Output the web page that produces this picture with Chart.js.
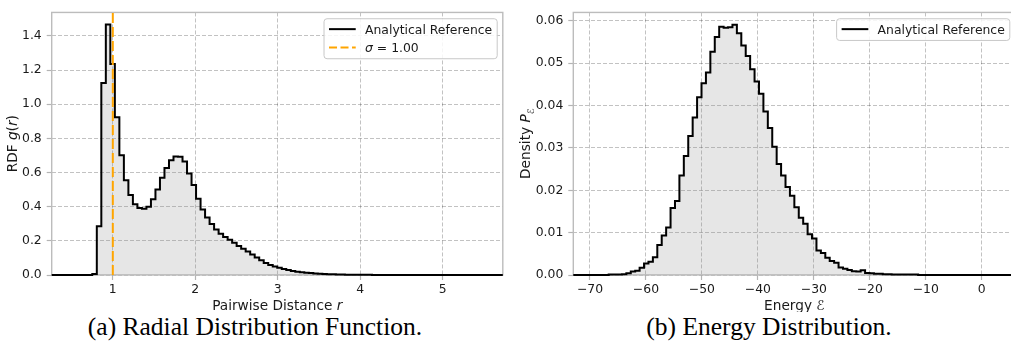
<!DOCTYPE html>
<html lang="en">
<head>
    <meta charset="UTF-8">
    <title>Radial and Energy Distributions</title>
    <script src="https://cdn.jsdelivr.net/npm/chart.js"></script>
    <style>
        html, body {
            margin: 0;
            padding: 0;
            width: 1011px;
            height: 354px;
            overflow: hidden;
            background: #fff;
        }
        canvas {
            position: absolute;
            top: 0;
        }
        #rdfChart { left: 0; }
        #energyChart { left: 510px; }
        .caption {
            position: absolute;
            top: 312px;
            font-family: 'Liberation Serif', serif;
            font-size: 25.5px;
            line-height: 30px;
            color: #000;
            white-space: nowrap;
            transform: translateX(-50%);
        }
    </style>
</head>
<body>

    <canvas id="rdfChart" width="510" height="312"></canvas>
    <canvas id="energyChart" width="520" height="312"></canvas>

    <div class="caption" style="left: 255px;">(a) Radial Distribution Function.</div>
    <div class="caption" style="left: 769px;">(b) Energy Distribution.</div>

    <script>
        // --- data: RDF histogram (100 bins) ---
        const rdfFirstEdge = 0.259;
        const rdfBinWidth = 0.0547;
        const rdfValues = [
            0, 0, 0, 0, 0, 0, 0, 0, 0, 0.006,
            0.285, 1.124, 1.467, 1.235, 0.924, 0.702, 0.555, 0.469, 0.415, 0.392,
            0.388, 0.400, 0.444, 0.500, 0.570, 0.627, 0.672, 0.694, 0.693, 0.664,
            0.594, 0.527, 0.447, 0.384, 0.336, 0.298, 0.267, 0.241, 0.222, 0.206,
            0.189, 0.170, 0.153, 0.138, 0.120, 0.103, 0.086, 0.071, 0.059, 0.050,
            0.042, 0.035, 0.029, 0.023, 0.019, 0.016, 0.013, 0.011, 0.009, 0.007,
            0.006, 0.005, 0.004, 0.003, 0.003, 0.002, 0.002, 0.0015, 0.001, 0.001,
            0.0008, 0.0006, 0.0005, 0.0004, 0.0003, 0.0003, 0.0002, 0.0002, 0.0002, 0.0001,
            0, 0, 0, 0, 0, 0, 0, 0, 0, 0,
            0, 0, 0, 0, 0, 0, 0, 0, 0, 0
        ];
        const sigmaValue = 1.0;
        const rdfXTicks = [1, 2, 3, 4, 5];
        const rdfYTicks = [0, 0.2, 0.4, 0.6, 0.8, 1.0, 1.2, 1.4];
        const rdfYMax = 1.5376;

        // --- data: energy histogram (100 bins) ---
        const energyFirstEdge = -72.98;
        const energyBinWidth = 0.79;
        const energyValues = [
            0, 0, 0, 0, 0, 0, 0, 0, 0.0001, 0.0001,
            0.0001, 0.0002, 0.0004, 0.0008, 0.0010, 0.0017, 0.0027, 0.0031, 0.0042, 0.0071,
            0.0093, 0.0112, 0.0158, 0.0175, 0.0235, 0.0281, 0.0328, 0.0372, 0.0420, 0.0453,
            0.0478, 0.0527, 0.0562, 0.0586, 0.0584, 0.0585, 0.0591, 0.0571, 0.0542, 0.0517,
            0.0486, 0.0457, 0.0428, 0.0386, 0.0347, 0.0303, 0.0262, 0.0235, 0.0208, 0.0187,
            0.0160, 0.0135, 0.0121, 0.0096, 0.0086, 0.0058, 0.0052, 0.0041, 0.0033, 0.0029,
            0.0018, 0.0015, 0.0012, 0.0009, 0.0008, 0.0011, 0.0005, 0.0004, 0.0003, 0.0003,
            0.0002, 0.0002, 0.0001, 0.0001, 0.0001, 0.0001, 0.0001, 0.0001, 0, 0,
            0, 0, 0, 0, 0, 0, 0, 0, 0, 0,
            0, 0, 0, 0, 0, 0, 0, 0, 0, 0
        ];
        const energyXTicks = [-70, -60, -50, -40, -30, -20, -10, 0];
        const energyYTicks = [0, 0.01, 0.02, 0.03, 0.04, 0.05, 0.06];
        const energyYMax = 0.0620;

        const FONT = "'DejaVu Sans'";
        const FONT_SIZE = 12.4;     // ticks and legend
        const TITLE_SIZE = 13.7;    // axis titles
        const TEXT_COLOR = '#1a1a1a';

        // bin heights -> step points at the left edges, plus the closing right edge
        function stepPoints(firstEdge, width, values) {
            const pts = values.map((v, i) => ({ x: firstEdge + i * width, y: v }));
            pts.push({ x: firstEdge + values.length * width, y: values[values.length - 1] });
            return pts;
        }

        function partFont(p, size) {
            const s = p.sub ? size * 0.7 : size;
            return (p.i ? 'italic ' : '') + s + 'px ' + FONT;
        }

        function richWidth(ctx, parts, size) {
            let w = 0;
            parts.forEach(p => { ctx.font = partFont(p, size); w += ctx.measureText(p.t).width; });
            return w;
        }

        // draw mixed upright / italic / subscript text
        function drawRich(ctx, parts, x, y, opts = {}) {
            const size = opts.size || FONT_SIZE;
            ctx.save();
            ctx.translate(x, y);
            if (opts.rotate) ctx.rotate(-Math.PI / 2);
            ctx.fillStyle = TEXT_COLOR;
            ctx.textBaseline = 'alphabetic';
            ctx.textAlign = 'left';
            let cx = opts.center ? -richWidth(ctx, parts, size) / 2 : 0;
            parts.forEach(p => {
                ctx.font = partFont(p, size);
                ctx.fillText(p.t, cx, p.sub ? 3.5 : 0);
                cx += ctx.measureText(p.t).width;
            });
            ctx.restore();
        }

        // matplotlib look: frame, axis titles and boxed legend
        const mplDecor = {
            id: 'mplDecor',
            beforeDatasetsDraw(chart, args, opts) {
                const { ctx, chartArea: a } = chart;
                ctx.save();
                ctx.strokeStyle = '#bcbcbc';
                ctx.lineWidth = 1.4;
                ctx.strokeRect(a.left, a.top, a.right - a.left, a.bottom - a.top);
                ctx.restore();
            },
            afterDraw(chart, args, opts) {
                const { ctx, chartArea: a } = chart;
                const midX = (a.left + a.right) / 2;
                const midY = (a.top + a.bottom) / 2;
                drawRich(ctx, opts.xTitle, midX, opts.xTitleY, { center: true, size: TITLE_SIZE });
                drawRich(ctx, opts.yTitle, opts.yTitleX, midY, { center: true, rotate: true, size: TITLE_SIZE });

                // legend box
                const entries = opts.legend;
                let textW = 0;
                entries.forEach(e => { textW = Math.max(textW, richWidth(ctx, e.parts, FONT_SIZE)); });
                const w = 5 + 26.7 + 9.3 + textW + 5;
                const h = 10.4 + (entries.length - 1) * 18.3 + 11.3;
                const x0 = a.right - 5.6 - w;
                const y0 = a.top + 6.3;
                ctx.save();
                ctx.beginPath();
                ctx.roundRect(x0, y0, w, h, 3);
                ctx.fillStyle = 'rgba(255,255,255,0.85)';
                ctx.fill();
                ctx.strokeStyle = '#c8c8c8';
                ctx.lineWidth = 1;
                ctx.stroke();
                entries.forEach((e, i) => {
                    const cy = y0 + 10.4 + i * 18.3;
                    ctx.beginPath();
                    ctx.setLineDash(e.dash || []);
                    ctx.strokeStyle = e.color;
                    ctx.lineWidth = 2;
                    ctx.moveTo(x0 + 5, cy);
                    ctx.lineTo(x0 + 31.7, cy);
                    ctx.stroke();
                    ctx.setLineDash([]);
                    drawRich(ctx, e.parts, x0 + 41, cy + 4.6);
                });
                ctx.restore();
            }
        };

        function axisX(min, max, ticks, fmt) {
            return {
                type: 'linear',
                min: min,
                max: max,
                afterBuildTicks: s => { s.ticks = ticks.map(v => ({ value: v })); },
                afterFit: s => { s.height = 37; },
                ticks: {
                    autoSkip: false,
                    maxRotation: 0,
                    padding: 2,
                    color: TEXT_COLOR,
                    font: { family: FONT, size: FONT_SIZE },
                    callback: fmt
                },
                grid: { color: 'rgba(0,0,0,0.24)', lineWidth: 1, tickLength: 5, tickColor: '#b4b4b4', tickWidth: 1.2 },
                border: { display: false, dash: [4, 2] }
            };
        }

        function axisY(max, ticks, fmt, width) {
            return {
                type: 'linear',
                min: 0,
                max: max,
                afterBuildTicks: s => { s.ticks = ticks.map(v => ({ value: v })); },
                afterFit: s => { s.width = width; },
                ticks: {
                    autoSkip: false,
                    padding: 5,
                    color: TEXT_COLOR,
                    font: { family: FONT, size: FONT_SIZE },
                    callback: fmt
                },
                grid: { color: 'rgba(0,0,0,0.24)', lineWidth: 1, tickLength: 5, tickColor: '#b4b4b4', tickWidth: 1.2 },
                border: { display: false, dash: [4, 2] }
            };
        }

        const minusSign = v => String(v).replace('-', '\u2212');

        const histStyle = {
            borderColor: '#000',
            borderWidth: 2,
            backgroundColor: 'rgba(128,128,128,0.2)',
            fill: 'origin',
            stepped: true,
            pointRadius: 0,
            borderJoinStyle: 'miter',
            clip: false,
            order: 2
        };

        new Chart(document.getElementById('rdfChart'), {
            type: 'line',
            data: {
                datasets: [
                    Object.assign({ label: 'Analytical Reference', data: stepPoints(rdfFirstEdge, rdfBinWidth, rdfValues) }, histStyle),
                    {
                        label: '\u03c3 = 1.00',
                        data: [{ x: sigmaValue, y: 0 }, { x: sigmaValue, y: rdfYMax }],
                        borderColor: '#ffa500',
                        borderWidth: 2,
                        borderDash: [10, 4],
                        pointRadius: 0,
                        fill: false,
                        order: 1
                    }
                ]
            },
            options: {
                responsive: false,
                animation: false,
                devicePixelRatio: 1,
                layout: { padding: { top: 7, right: 7.2, left: 0, bottom: 0 } },
                scales: {
                    x: axisX(rdfFirstEdge, rdfFirstEdge + rdfValues.length * rdfBinWidth, rdfXTicks, v => String(v)),
                    y: axisY(rdfYMax, rdfYTicks, v => v.toFixed(1), 51.7)
                },
                plugins: {
                    legend: { display: false },
                    tooltip: { enabled: false },
                    mplDecor: {
                        xTitle: [{ t: 'Pairwise Distance ' }, { t: 'r', i: true }],
                        xTitleY: 310,
                        yTitle: [{ t: 'RDF ' }, { t: 'g', i: true }, { t: '(' }, { t: 'r', i: true }, { t: ')' }],
                        yTitleX: 17.3,
                        legend: [
                            { parts: [{ t: 'Analytical Reference' }], color: '#000' },
                            { parts: [{ t: '\u03c3', i: true }, { t: ' = 1.00' }], color: '#ffa500', dash: [8, 3.5] }
                        ]
                    }
                }
            },
            plugins: [mplDecor]
        });

        new Chart(document.getElementById('energyChart'), {
            type: 'line',
            data: {
                datasets: [
                    Object.assign({ label: 'Analytical Reference', data: stepPoints(energyFirstEdge, energyBinWidth, energyValues) }, histStyle)
                ]
            },
            options: {
                responsive: false,
                animation: false,
                devicePixelRatio: 1,
                layout: { padding: { top: 7, right: 14.6, left: 0, bottom: 0 } },
                scales: {
                    x: axisX(energyFirstEdge, energyFirstEdge + energyValues.length * energyBinWidth, energyXTicks, minusSign),
                    y: axisY(energyYMax, energyYTicks, v => v.toFixed(2), 63.3)
                },
                plugins: {
                    legend: { display: false },
                    tooltip: { enabled: false },
                    mplDecor: {
                        xTitle: [{ t: 'Energy ' }, { t: '\u2130', i: true }],
                        xTitleY: 310,
                        yTitle: [{ t: 'Density ' }, { t: 'P', i: true }, { t: '\u2130', i: true, sub: true }],
                        yTitleX: 20,
                        legend: [
                            { parts: [{ t: 'Analytical Reference' }], color: '#000' }
                        ]
                    }
                }
            },
            plugins: [mplDecor]
        });
    </script>

</body>
</html>
